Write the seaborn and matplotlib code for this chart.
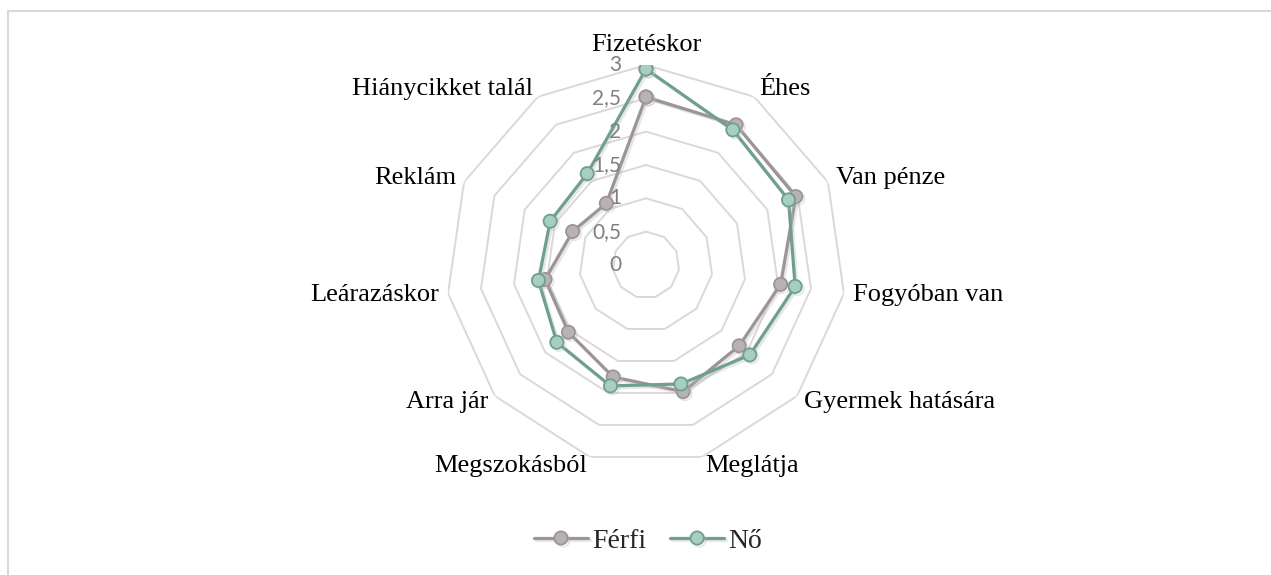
import numpy as np
import pandas as pd
import matplotlib
matplotlib.use("Agg")
import matplotlib.pyplot as plt
import matplotlib.patheffects as pe
import seaborn as sns

categories = ['Fizetéskor', 'Éhes', 'Van pénze', 'Fogyóban van', 'Gyermek hatására',
              'Meglátja', 'Megszokásból', 'Arra jár', 'Leárazáskor', 'Reklám',
              'Hiánycikket talál']
ferfi = [2.52, 2.50, 2.47, 2.04, 1.85, 1.98, 1.75, 1.54, 1.53, 1.21, 1.10]
no = [2.94, 2.41, 2.35, 2.26, 2.06, 1.86, 1.89, 1.77, 1.63, 1.58, 1.63]
series_names = ['Férfi', 'Nő']
levels = [0, 0.5, 1, 1.5, 2, 2.5, 3]
level_labels = ['0', '0,5', '1', '1,5', '2', '2,5', '3']

line_colors = {'Férfi': '#9d9494', 'Nő': '#6f9f8f'}
fill_colors = {'Férfi': '#b8b2b2', 'Nő': '#a8cdc1'}

n = len(categories)
theta = np.linspace(0, 2 * np.pi, n, endpoint=False)

# long table, first point repeated to close the polygon
rows = []
for name, vals in zip(series_names, [ferfi, no]):
    for t, v in zip(list(theta) + [2 * np.pi], vals + [vals[0]]):
        rows.append({'theta': t, 'value': v, 'series': name})
df = pd.DataFrame(rows)

sns.set_style('white')
plt.rcParams['font.family'] = ['Liberation Serif', 'DejaVu Serif']

W, H = 1271, 575
fig = plt.figure(figsize=(W / 100, H / 100), dpi=100)
cx, cy, R = 646, 265, 200
ax = fig.add_axes([(cx - R) / W, (H - cy - R) / H, 2 * R / W, 2 * R / H], projection='polar')
ax.set_theta_zero_location('N')
ax.set_theta_direction(-1)
ax.set_ylim(0, 3)
ax.grid(False)
ax.spines['polar'].set_visible(False)
ax.set_xticks([])
ax.set_yticks([])
ax.patch.set_alpha(0)

# polygon gridlines
ring_t = np.append(theta, theta[0])
for lv in levels[1:]:
    ax.plot(ring_t, [lv] * (n + 1), color='#d9d9d9', lw=1.4, zorder=1)

n_before = len(ax.lines)
sns.lineplot(data=df, x='theta', y='value', hue='series', palette=line_colors,
             sort=False, estimator=None, marker='o', markersize=9.5, linewidth=2.3,
             legend=False, ax=ax, zorder=3)
handles = ax.lines[n_before:]
for ln, name in zip(handles, series_names):
    ln.set_markerfacecolor(fill_colors[name])
    ln.set_markeredgecolor(line_colors[name])
    ln.set_markeredgewidth(1.3)
    ln.set_path_effects([pe.SimpleLineShadow(offset=(1.5, -1.5), shadow_color='#bbbbbb', alpha=0.35),
                         pe.Normal()])
    ln.set_label(name)
ax.set_xlabel('')
ax.set_ylabel('')

# value labels along the vertical axis
for lv, lab in zip(levels, level_labels):
    ax.annotate(lab, xy=(0, lv), xytext=(-25, 0), textcoords='offset pixels',
                ha='right', va='center', fontsize=15, color='#808080',
                family=['Lato', 'DejaVu Sans'])

# category labels
for t, lab in zip(theta, categories):
    s, c = np.sin(t), np.cos(t)
    ha = 'left' if s > 0.05 else ('right' if s < -0.05 else 'center')
    va = 'bottom' if abs(s) < 0.05 and c > 0 else 'center'
    ax.annotate(lab, xy=(t, 3), xytext=(9 * s, 9 * c), textcoords='offset pixels',
                ha=ha, va=va, fontsize=19, color='black', annotation_clip=False)

leg = fig.legend(handles=handles, labels=series_names, loc='center',
                 bbox_to_anchor=(648 / W, 1 - 541 / H), ncol=2, frameon=False,
                 fontsize=20, handlelength=1.95, handletextpad=0.15, columnspacing=0.85)

# chart area border (top and left edges visible)
fig.add_artist(plt.Line2D([8 / W, 1], [1 - 11 / H, 1 - 11 / H], transform=fig.transFigure,
                          color='#d9d9d9', lw=1.5))
fig.add_artist(plt.Line2D([8 / W, 8 / W], [0, 1 - 11 / H], transform=fig.transFigure,
                          color='#d9d9d9', lw=1.5))

fig.savefig('out.png', dpi=100)
